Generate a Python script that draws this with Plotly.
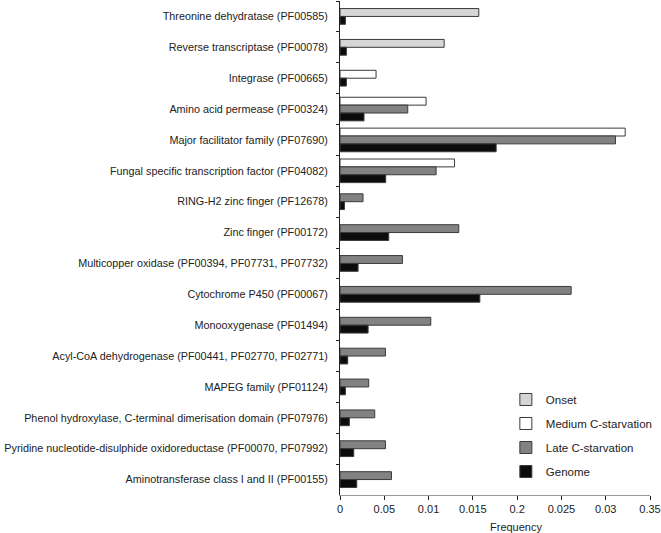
import plotly.graph_objects as go

categories = [
    "Threonine dehydratase (PF00585)",
    "Reverse transcriptase (PF00078)",
    "Integrase (PF00665)",
    "Amino acid permease (PF00324)",
    "Major facilitator family (PF07690)",
    "Fungal specific transcription factor (PF04082)",
    "RING-H2 zinc finger (PF12678)",
    "Zinc finger (PF00172)",
    "Multicopper oxidase (PF00394, PF07731, PF07732)",
    "Cytochrome P450 (PF00067)",
    "Monooxygenase (PF01494)",
    "Acyl-CoA dehydrogenase (PF00441, PF02770, PF02771)",
    "MAPEG family (PF01124)",
    "Phenol hydroxylase, C-terminal dimerisation domain (PF07976)",
    "Pyridine nucleotide-disulphide oxidoreductase (PF00070, PF07992)",
    "Aminotransferase class I and II (PF00155)",
]

onset = [0.01567, 0.01176, None, None, None, None, None, None, None, None, None, None, None, None, None, None]
medium = [None, None, 0.00407, 0.00972, 0.0322, 0.01293, None, None, None, None, None, None, None, None, None, None]
late = [None, None, None, 0.00765, 0.0311, 0.01085, 0.0026, 0.01341, 0.00705, 0.0261, 0.01025, 0.00513, 0.00324, 0.00392, 0.00513, 0.00581]
genome = [0.00061, 0.00072, 0.00072, 0.00271, 0.01763, 0.00516, 0.0005, 0.0055, 0.00204, 0.01579, 0.00317, 0.00087, 0.00061, 0.00106, 0.00155, 0.00189]

tick_vals = [0, 0.005, 0.01, 0.015, 0.02, 0.025, 0.03, 0.035]
tick_text = ["0", "0.05", "0.01", "0.015", "0.2", "0.025", "0.03", "0.35"]

series = [
    ("Onset", onset, "#d6d6d6"),
    ("Medium C-starvation", medium, "#ffffff"),
    ("Late C-starvation", late, "#828282"),
    ("Genome", genome, "#0c0c0c"),
]

BAR_W = 0.255

# offsets derived from which series are present in each category (bars centred per category)
present = [[s[1][i] is not None for s in series] for i in range(len(categories))]
offsets = []
for si in range(len(series)):
    arr = []
    for i in range(len(categories)):
        n = sum(present[i])
        k = sum(present[i][:si])
        arr.append(-n * BAR_W / 2 + k * BAR_W)
    offsets.append(arr)

fig = go.Figure()
for si, (name, vals, col) in enumerate(series):
    fig.add_trace(go.Bar(
        name=name, x=vals, y=categories, orientation="h",
        offset=offsets[si], width=BAR_W,
        marker=dict(color=col, line=dict(color="#3a3a3a", width=1)),
        legendgroup=name,
    ))

fig.update_layout(
    width=661, height=533,
    margin=dict(l=340, r=11, t=1, b=38, autoexpand=False),
    paper_bgcolor="white", plot_bgcolor="white",
    barmode="overlay",
    font=dict(family="Liberation Sans, Arial, sans-serif", size=11, color="#222"),
    showlegend=True,
    legend=dict(
        x=0.535, y=0.2227, xanchor="left", yanchor="top",
        font=dict(size=11.5, color="#222"),
        traceorder="grouped", tracegroupgap=5,
        bgcolor="rgba(0,0,0,0)",
    ),
    xaxis=dict(
        range=[0, 0.035], tickvals=tick_vals, ticktext=tick_text,
        showgrid=False, zeroline=False, automargin=False,
        showline=True, linecolor="#9a9a9a", linewidth=1,
        ticks="outside", ticklen=4, tickcolor="#222",
        tickfont=dict(size=11),
    ),
    yaxis=dict(
        type="category", range=[15.5, -0.5], automargin=False,
        showgrid=False, zeroline=False,
        showline=True, linecolor="#222", linewidth=1,
        ticks="outside", ticklen=3, tickcolor="#222", tickson="boundaries",
        ticklabelstandoff=9,
        tickfont=dict(size=10.8),
    ),
    annotations=[dict(
        text="Frequency", x=0.568, y=-0.064, xref="paper", yref="paper",
        showarrow=False, xanchor="center", yanchor="middle",
        font=dict(size=11, color="#222"),
    )],
)

fig.write_html(
    "out.html",
    config={"displayModeBar": False},
    post_script="document.body.style.margin='0';document.body.style.overflow='hidden';",
)
